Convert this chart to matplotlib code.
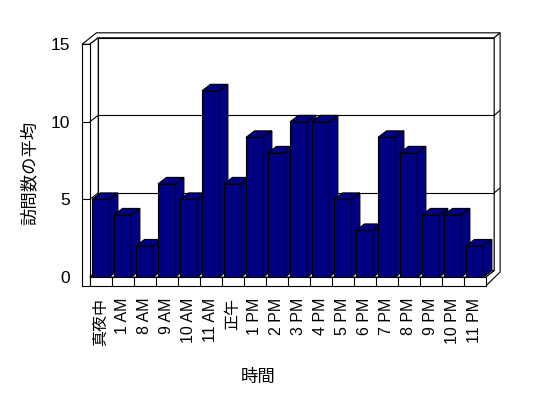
import numpy as np
import matplotlib.pyplot as plt
from matplotlib.patches import Polygon, Rectangle

plt.rcParams['font.family'] = ['Liberation Sans', 'Noto Sans CJK JP']

hours = ['真夜中', '1 AM', '8 AM', '9 AM', '10 AM', '11 AM', '正午', '1 PM', '2 PM',
         '3 PM', '4 PM', '5 PM', '6 PM', '7 PM', '8 PM', '9 PM', '10 PM', '11 PM']
visits = [5, 4, 2, 6, 5, 12, 6, 9, 8, 10, 10, 5, 3, 9, 8, 4, 4, 2]
yticks = [0, 5, 10, 15]

navy = '#000080'
lw = 0.8
# fake 3d depth, in data units
DX, DY = 0.386, 0.42
OX, OY = 0.27, 0.32
WALL, FLOOR = 0.35, 0.58
n = len(hours)
x0, x1 = -0.5, n - 0.5
top = 15

fig = plt.figure(figsize=(5.48, 3.98), dpi=100)
ax = fig.add_axes([0.1637, 0.304, 0.7226, 0.5847])
ax.set_xlim(x0, x1)
ax.set_ylim(0, top)
for s in ax.spines.values():
    s.set_visible(False)

def poly(pts, z=1, fc='white'):
    ax.add_patch(Polygon(pts, closed=True, fc=fc, ec='black', lw=lw,
                         zorder=z, clip_on=False, joinstyle='miter'))

def line(xs, ys, z=1.5):
    ax.plot(xs, ys, color='black', lw=lw, zorder=z, clip_on=False,
            solid_capstyle='butt')

# back wall
poly([(x0 + DX, DY), (x1 + DX, DY), (x1 + DX, top + DY), (x0 + DX, top + DY)])
# top edge of walls
poly([(x0 - WALL, top), (x0, top), (x0 + DX, top + DY), (x1 + DX, top + DY),
      (x1 + DX + OX, top + DY + OY), (x0 - WALL + DX + OX, top + DY + OY)])
# right edge of back wall + floor
poly([(x1, 0), (x1 + DX, DY), (x1 + DX, top + DY), (x1 + DX + OX, top + DY + OY),
      (x1 + DX + OX, DY - 0.1), (x1, -FLOOR)])
# left wall, inner face
poly([(x0, 0), (x0 + DX, DY), (x0 + DX, top + DY), (x0, top)])
# left wall front face
poly([(x0 - WALL, -FLOOR), (x0, -FLOOR), (x0, top), (x0 - WALL, top)])
# floor top and front
poly([(x0, 0), (x1, 0), (x1 + DX, DY), (x0 + DX, DY)], z=1.2)
poly([(x0, -FLOOR), (x1, -FLOOR), (x1, 0), (x0, 0)], z=1.2)
for b in np.arange(x0 + 1, x1):
    line([b, b], [-FLOOR, 0])

# gridlines
for v in yticks[1:-1]:
    line([x0 + DX, x1 + DX], [v + DY, v + DY])
    line([x0, x0 + DX], [v, v + DY])
    line([x0 - WALL, x0], [v, v])
    line([x1 + DX, x1 + DX + OX], [v + DY, v + DY + OY])

# bars
x = np.arange(n)
w = 0.79
bars = ax.bar(x, visits, width=w, color=navy, edgecolor='black', lw=lw)
for i, (p, v) in enumerate(zip(bars.patches, visits)):
    z = 3 + i * 0.01
    p.set_zorder(z)
    l, r = i - w / 2, i + w / 2
    poly([(l, v), (l + DX, v + DY), (r + DX, v + DY), (r, v)], z=z, fc=navy)
    poly([(r, 0), (r + DX, DY), (r + DX, v + DY), (r, v)], z=z, fc=navy)

ax.set_yticks(yticks)
ax.set_yticklabels([str(t) for t in yticks], fontsize=12.5)
ax.set_xticks(x)
ax.set_xticklabels(hours, rotation=90, fontsize=11.5)
ax.tick_params(axis='y', length=0, pad=14)
ax.tick_params(axis='x', length=0, pad=15)

ax.set_ylabel('訪問数の平均', fontsize=12.5)
ax.yaxis.label.set_va('center')
ax.yaxis.set_label_coords(-0.153, 0.447)
ax.set_xlabel('時間', fontsize=12.5)
ax.xaxis.label.set_va('center')
ax.xaxis.set_label_coords(0.425, -0.43)

fig.savefig('out.png', dpi=100)
